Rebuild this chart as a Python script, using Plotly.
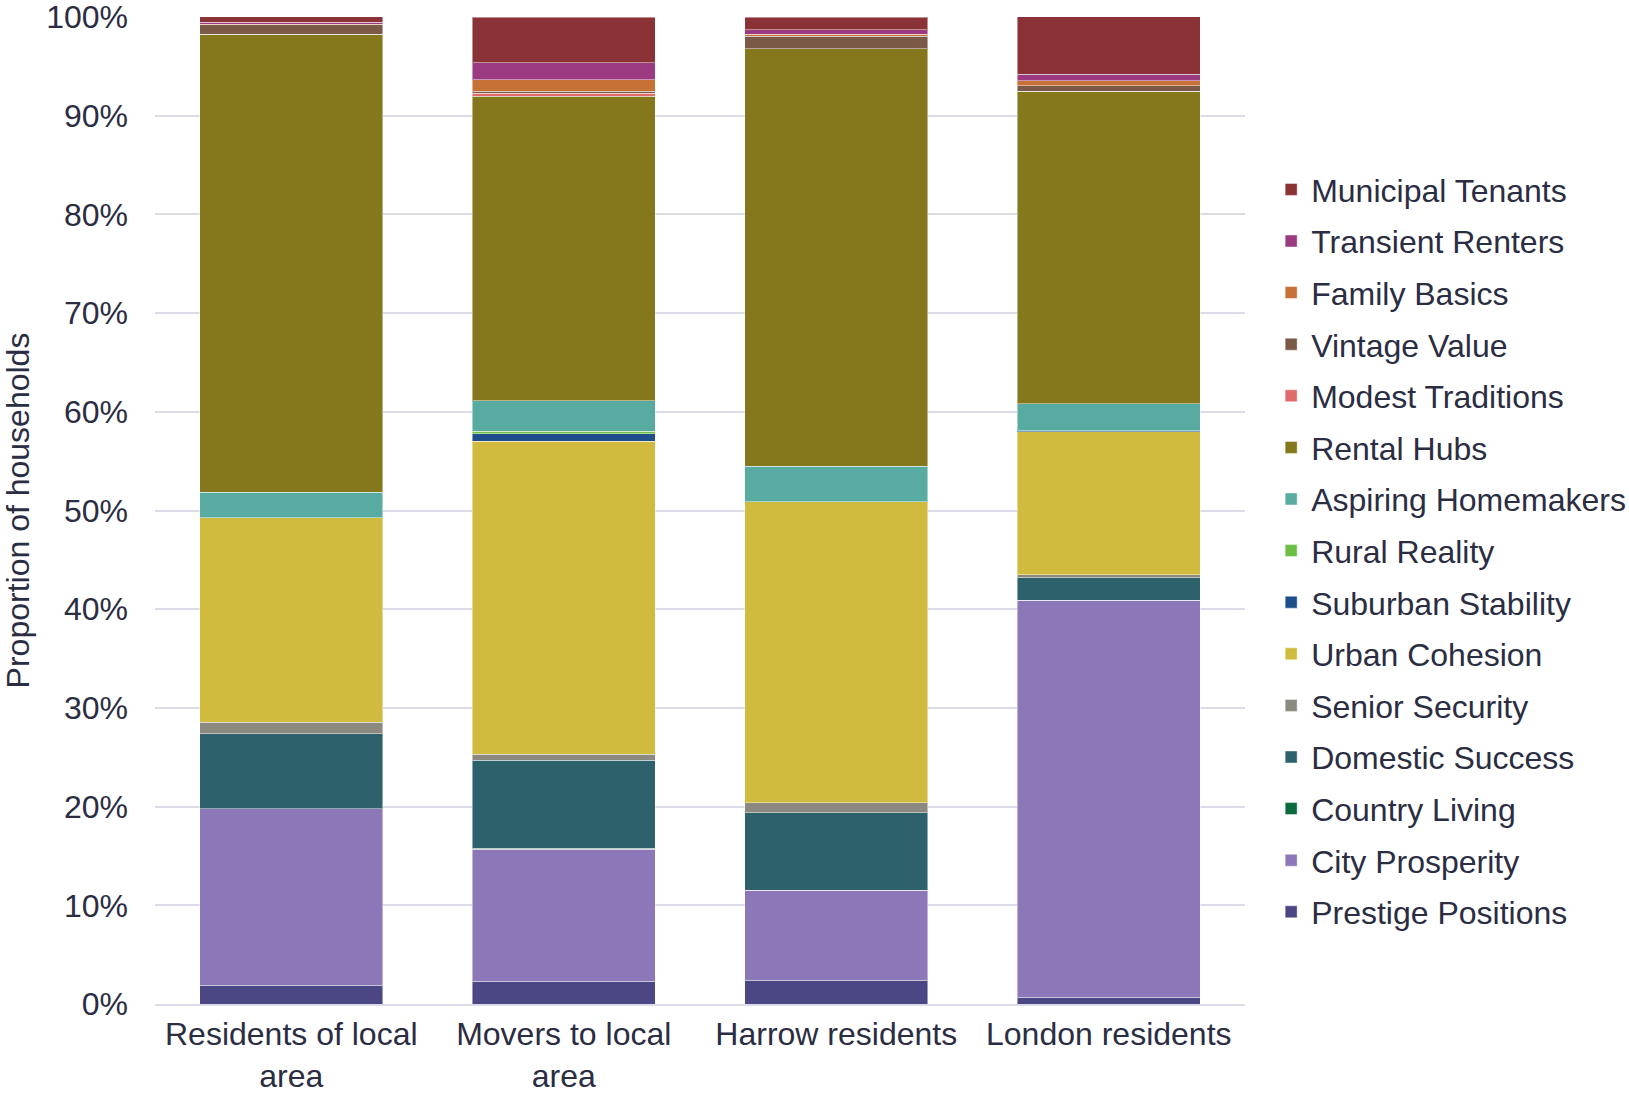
import plotly.graph_objects as go

# Household groups shown as stacked columns
groups = ["Residents of local<br>area", "Movers to local<br>area", "Harrow residents", "London residents"]

# Share of households (%) in each Mosaic group, bottom of the stack first
prestige_positions = [1.9, 2.3, 2.4, 0.7]
city_prosperity = [17.9, 13.4, 9.1, 40.2]
country_living = [0.0, 0.1, 0.0, 0.0]
domestic_success = [7.6, 8.9, 7.9, 2.3]
senior_security = [1.15, 0.6, 1.0, 0.3]
urban_cohesion = [20.7, 31.7, 30.5, 14.5]
suburban_stability = [0.0, 0.8, 0.0, 0.1]
rural_reality = [0.0, 0.25, 0.0, 0.0]
aspiring_homemakers = [2.6, 3.05, 3.6, 2.7]
rental_hubs = [46.4, 30.85, 42.3, 31.7]
modest_traditions = [0.0, 0.35, 0.0, 0.0]
vintage_value = [0.95, 0.2, 1.25, 0.55]
family_basics = [0.05, 1.15, 0.2, 0.47]
transient_renters = [0.2, 1.7, 0.45, 0.68]
municipal_tenants = [0.6, 4.65, 1.3, 5.95]

series = [
    ("Prestige Positions", prestige_positions, "#4B4785"),
    ("City Prosperity", city_prosperity, "#8C78B8"),
    ("Country Living", country_living, "#0B6B3F"),
    ("Domestic Success", domestic_success, "#2D626D"),
    ("Senior Security", senior_security, "#8C8A80"),
    ("Urban Cohesion", urban_cohesion, "#D0BB3F"),
    ("Suburban Stability", suburban_stability, "#1F4E8C"),
    ("Rural Reality", rural_reality, "#6DBE45"),
    ("Aspiring Homemakers", aspiring_homemakers, "#58ABA1"),
    ("Rental Hubs", rental_hubs, "#85771C"),
    ("Modest Traditions", modest_traditions, "#E06B6B"),
    ("Vintage Value", vintage_value, "#7A5A47"),
    ("Family Basics", family_basics, "#C87137"),
    ("Transient Renters", transient_renters, "#9B3A80"),
    ("Municipal Tenants", municipal_tenants, "#8B3236"),
]

text_color = "#2B2D42"
grid_color = "#DCDCE8"
font_family = "Liberation Sans, Arial, sans-serif"

fig = go.Figure()
n = len(series)
for i, (name, values, color) in enumerate(series):
    fig.add_trace(go.Bar(
        x=groups,
        y=values,
        name=name,
        legendgroup=name,
        legendrank=n - i,  # top of the stack listed first
        marker=dict(color=color, line=dict(color="rgba(255,255,255,0.45)", width=1)),
    ))

fig.update_layout(
    width=1629,
    height=1095,
    barmode="stack",
    bargap=0.33,
    paper_bgcolor="white",
    plot_bgcolor="white",
    margin=dict(l=155, r=384, t=17, b=91, autoexpand=False),
    font=dict(family=font_family, size=32, color=text_color),
    legend=dict(
        traceorder="grouped",
        tracegroupgap=7,
        x=1.024,
        xanchor="left",
        y=0.853,
        yanchor="top",
        font=dict(size=32, color=text_color),
        bgcolor="rgba(0,0,0,0)",
    ),
    showlegend=True,
)

fig.update_yaxes(
    range=[0, 100],
    tickvals=[0, 10, 20, 30, 40, 50, 60, 70, 80, 90, 100],
    ticktext=["0%", "10%", "20%", "30%", "40%", "50%", "60%", "70%", "80%", "90%", "100%"],
    ticklabeloverflow="allow",
    showgrid=True,
    gridcolor=grid_color,
    gridwidth=2,
    zeroline=False,
    showline=False,
    ticks="",
    ticklabelstandoff=26,
    title=dict(text="Proportion of households", standoff=18, font=dict(size=32, color=text_color)),
)

fig.update_xaxes(
    showgrid=False,
    showline=True,
    linecolor=grid_color,
    linewidth=2,
    ticks="",
    ticklabelstandoff=1,
    tickfont=dict(size=32, color=text_color),
)

fig.write_html("out.html")
